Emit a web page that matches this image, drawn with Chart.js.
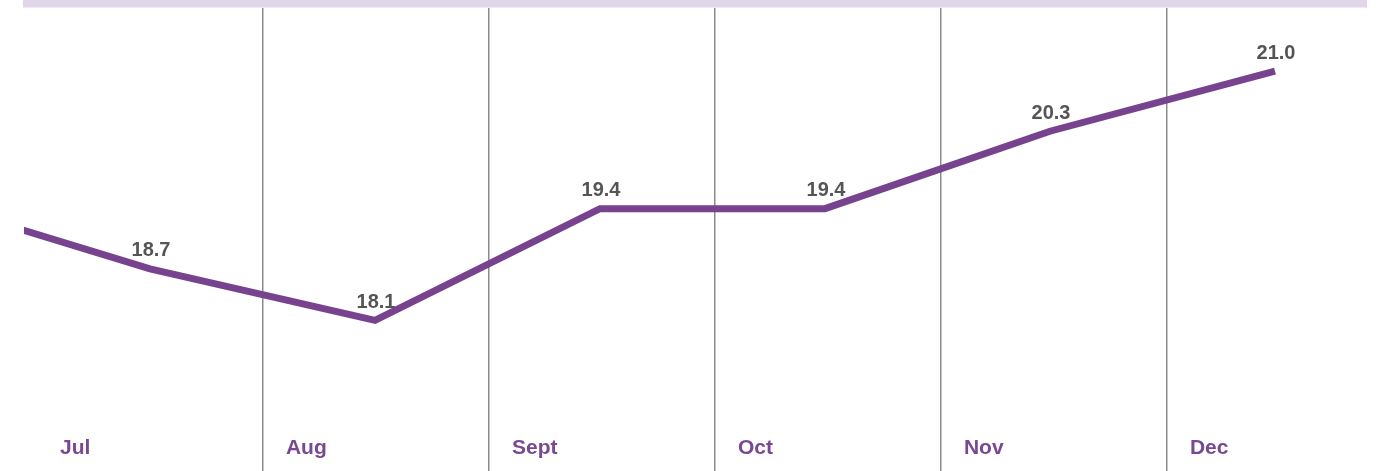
<!DOCTYPE html>
<html>
<head>
<meta charset="utf-8">
<title>Monthly chart</title>
<script src="https://cdn.jsdelivr.net/npm/chart.js@4"></script>
<style>
  html, body { margin: 0; padding: 0; background: #fff; }
  #wrap { width: 1379px; height: 471px; position: relative; }
</style>
</head>
<body>
<div id="wrap"><canvas id="lineChart"></canvas></div>
<script>
// datos
const months = ['Jul', 'Aug', 'Sept', 'Oct', 'Nov', 'Dec'];
const rates = [18.7, 18.1, 19.4, 19.4, 20.3, 21.0];
// mes anterior: solo se ve el tramo que entra por la izquierda
const prevRate = 19.5;

const purple = '#77428e';
// las columnas del original son un poco mas anchas que el paso entre puntos
const colStep = 226 / 225;
const gridVal = k => 0.502 + k * colStep;

// banda lila arriba + textos (valores y meses)
const decoPlugin = {
  id: 'deco',
  beforeDraw(chart) {
    const { ctx, chartArea } = chart;
    ctx.save();
    ctx.fillStyle = '#dfd6ea';
    ctx.fillRect(chartArea.left - 1, 0, chartArea.right - chartArea.left + 1, chartArea.top - 0.5);
    ctx.restore();
  },
  afterDatasetsDraw(chart) {
    const { ctx } = chart;
    const xs = chart.scales.x;
    const ys = chart.scales.y;
    ctx.save();
    ctx.textBaseline = 'alphabetic';

    ctx.font = 'bold 20px "Liberation Sans", Arial, sans-serif';
    ctx.fillStyle = '#555555';
    ctx.textAlign = 'center';
    rates.forEach((v, i) => {
      const px = xs.getPixelForValue(i);
      const py = ys.getPixelForValue(v);
      ctx.fillText(v.toFixed(1), px + 1, py - 12.5);
    });

    ctx.font = 'bold 21px "Liberation Sans", Arial, sans-serif';
    ctx.fillStyle = '#7a4793';
    ctx.textAlign = 'left';
    months.forEach((m, i) => {
      ctx.fillText(m, xs.getPixelForValue(gridVal(i - 1)) + 23, 454);
    });
    ctx.restore();
  }
};

const points = [{ x: -1, y: prevRate }].concat(rates.map((v, i) => ({ x: i, y: v })));

new Chart(document.getElementById('lineChart'), {
  type: 'line',
  data: {
    datasets: [{
      data: points,
      borderColor: purple,
      borderWidth: 7,
      borderCapStyle: 'butt',
      borderJoinStyle: 'miter',
      pointRadius: 0,
      tension: 0,
      fill: false,
      clip: 0
    }]
  },
  options: {
    responsive: true,
    maintainAspectRatio: false,
    animation: false,
    layout: { padding: { top: 8, left: 24, right: 12, bottom: 0 } },
    plugins: { legend: { display: false }, tooltip: { enabled: false } },
    scales: {
      x: {
        type: 'linear',
        min: -0.56,
        max: 5.409,
        afterBuildTicks(scale) {
          // lineas divisorias entre meses
          scale.ticks = months.slice(1).map((_, k) => ({ value: gridVal(k) }));
        },
        ticks: { display: false },
        grid: { color: '#8c8c8c', lineWidth: 1.5, drawTicks: false },
        border: { display: false }
      },
      y: {
        display: false,
        min: 16.349,
        max: 21.733
      }
    }
  },
  plugins: [decoPlugin]
});
</script>
</body>
</html>
